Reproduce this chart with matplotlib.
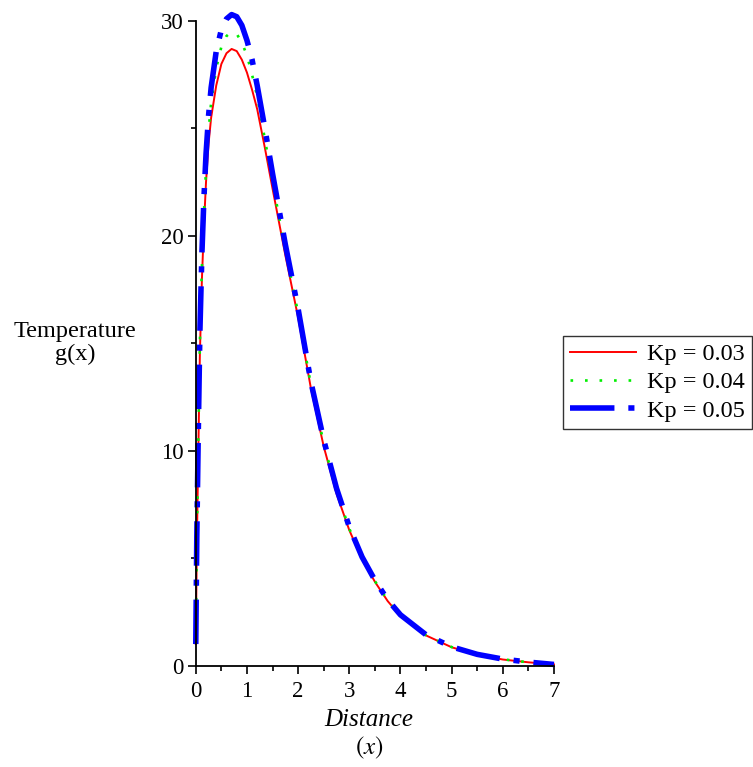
import matplotlib.pyplot as plt
from matplotlib.ticker import MultipleLocator

# ===== DADOS =====
dist = [0, 0.02, 0.05, 0.08, 0.12, 0.16, 0.2, 0.25, 0.3, 0.4, 0.5, 0.6, 0.7,
        0.8, 0.9, 1.0, 1.1, 1.2, 1.35, 1.5, 1.75, 2.0, 2.25, 2.5, 2.75, 3.0,
        3.25, 3.5, 3.75, 4.0, 4.5, 5.0, 5.5, 6.0, 6.5, 7.0]

temp_kp003 = [1.0, 5.5, 10.0, 14.5, 18.0, 20.5, 22.5, 24.3, 25.5, 27.0, 28.0,
              28.5, 28.7, 28.6, 28.2, 27.6, 26.8, 25.9, 24.1, 22.2, 19.1, 16.2,
              12.9, 10.2, 8.0, 6.3, 4.95, 3.9, 3.0, 2.3, 1.4, 0.85, 0.5, 0.28,
              0.15, 0.05]
temp_kp004 = [1.0, 5.8, 10.5, 15.0, 18.6, 21.1, 23.1, 24.9, 26.2, 27.8, 28.8,
              29.3, 29.5, 29.4, 29.0, 28.4, 27.5, 26.5, 24.5, 22.5, 19.35, 16.4,
              13.05, 10.35, 8.1, 6.37, 5.0, 3.93, 3.03, 2.33, 1.41, 0.86, 0.51,
              0.29, 0.15, 0.05]
temp_kp005 = [1.0, 6.0, 11.0, 15.5, 19.2, 21.8, 23.8, 25.6, 26.9, 28.6, 29.6,
              30.1, 30.3, 30.2, 29.8, 29.1, 28.2, 27.0, 25.0, 22.9, 19.6, 16.6,
              13.2, 10.5, 8.25, 6.45, 5.05, 3.97, 3.06, 2.36, 1.43, 0.87, 0.52,
              0.3, 0.16, 0.05]

labels = ['Kp = 0.03', 'Kp = 0.04', 'Kp = 0.05']

# ===== PLOTAGEM =====
plt.rcParams['font.family'] = 'Liberation Serif'
plt.rcParams['mathtext.fontset'] = 'stix'

fig = plt.figure(figsize=(7.53, 7.67), dpi=100)
ax = fig.add_axes([0.26, 0.1323, 0.4757, 0.8403])

ax.plot(dist, temp_kp003, color='red', linewidth=1.4, label=labels[0],
        clip_on=False)
ax.plot(dist, temp_kp004, color='#00ee00', linewidth=1.9, linestyle=(0, (1, 4.5)),
        label=labels[1], clip_on=False)
ax.plot(dist, temp_kp005, color='blue', linewidth=4.0,
        linestyle=(0, (8, 2.5, 1.1, 2.5)), dash_capstyle='butt',
        label=labels[2], clip_on=False)

ax.set_xlim(0, 7)
ax.set_ylim(0, 30)
ax.spines['top'].set_visible(False)
ax.spines['right'].set_visible(False)
ax.spines['left'].set_linewidth(1.3)
ax.spines['bottom'].set_linewidth(1.3)

ax.xaxis.set_major_locator(MultipleLocator(1))
ax.xaxis.set_minor_locator(MultipleLocator(0.5))
ax.yaxis.set_major_locator(MultipleLocator(10))
ax.yaxis.set_minor_locator(MultipleLocator(5))
ax.tick_params(which='major', length=6, width=1.2, labelsize=16.5)
ax.tick_params(axis='x', which='major', pad=5)
ax.tick_params(axis='y', which='major', pad=3)
ax.tick_params(which='minor', length=3.5, width=1.2)

fig.text(0.1, 0.553, 'Temperature\ng(x)', ha='center', va='center',
         fontsize=17.5, linespacing=1.15)
fig.text(0.49, 0.061, 'Distance', ha='center', va='center', fontsize=18,
         style='italic')
fig.text(0.49, 0.025, r'$(x)$', ha='center', va='center', fontsize=18)

leg = fig.legend(loc='upper left', bbox_to_anchor=(0.7477, 0.5619),
                 fontsize=17.5, frameon=True, fancybox=False, handlelength=2.7,
                 handletextpad=0.45, borderpad=0.3, labelspacing=0.25,
                 borderaxespad=0)
leg.get_frame().set_edgecolor('black')
leg.get_frame().set_linewidth(1.0)

fig.savefig('out.png', dpi=100)
